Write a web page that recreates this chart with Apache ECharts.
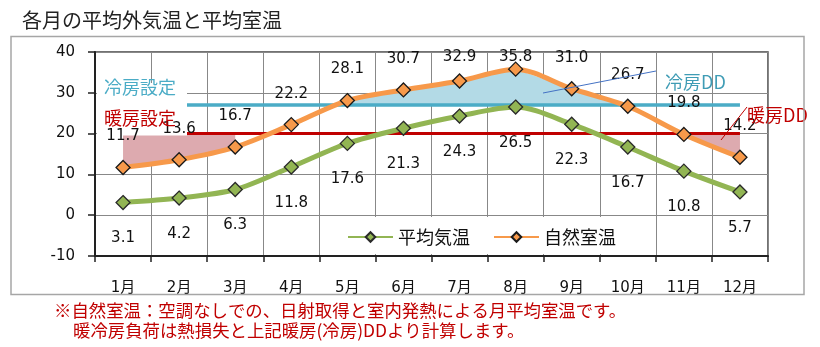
<!DOCTYPE html>
<html><head><meta charset="utf-8">
<script src="https://cdn.jsdelivr.net/npm/echarts@6/dist/echarts.min.js"></script>
<style>html,body{margin:0;padding:0;background:#fff}#c{width:820px;height:347px}</style>
</head><body><div id="c"></div>
<script>
const months = ['1月','2月','3月','4月','5月','6月','7月','8月','9月','10月','11月','12月'];
const outdoorTemp = [3.1, 4.2, 6.3, 11.8, 17.6, 21.3, 24.3, 26.5, 22.3, 16.7, 10.8, 5.7];
const roomTemp = [11.7, 13.6, 16.7, 22.2, 28.1, 30.7, 32.9, 35.8, 31.0, 26.7, 19.8, 14.2];
const coolingSet = 27;
const heatingSet = 20;
const yMin = -10, yMax = 40, yStep = 10;

// derived fills (heating degree: set - room where room < set; cooling: room - set where room > set)
const heatBase = roomTemp.map(v => v < heatingSet ? v : null);
const heatFill = roomTemp.map(v => v < heatingSet ? heatingSet - v : null);
const coolBase = roomTemp.map(v => v > coolingSet - 0.5 ? coolingSet : null);
const coolFill = roomTemp.map(v => v > coolingSet - 0.5 ? Math.max(v - coolingSet, 0) : null);
const coolLine = months.map(() => coolingSet);
const heatLine = months.map(() => heatingSet);

const numFont = "'DejaVu Sans','Noto Sans CJK JP',sans-serif";
const jpFont = "'Noto Sans CJK JP',sans-serif";
const chart = echarts.init(document.getElementById('c'), null, {renderer: 'canvas'});

const hidden = {symbol: 'none', silent: true, lineStyle: {opacity: 0, width: 0}, z: 1};
const option = {
  animation: false,
  title: {text: '各月の平均外気温と平均室温', left: 17, top: 5,
    textStyle: {fontFamily: jpFont, fontSize: 20, fontWeight: 'normal', color: '#222'}},
  grid: {left: 95, right: 52, top: 52, bottom: 91, show: true, borderColor: '#444', borderWidth: 1.5, backgroundColor: 'transparent'},
  legend: {data: ['平均気温', '自然室温'], left: 335, top: 217, backgroundColor: '#fff',
    padding: [11, 12, 8, 12], itemGap: 23, itemWidth: 45, itemHeight: 12,
    textStyle: {fontFamily: jpFont, fontSize: 18, color: '#111'}},
  xAxis: {type: 'category', data: months, boundaryGap: true,
    axisLine: {onZero: false, lineStyle: {color: '#222', width: 2}},
    axisTick: {show: true, length: 6, lineStyle: {color: '#222', width: 1.5}},
    axisLabel: {margin: 25, fontFamily: numFont, fontSize: 15, color: '#111', interval: 0},
    splitLine: {show: true, lineStyle: {color: '#888', width: 1}}},
  yAxis: {type: 'value', min: yMin, max: yMax, interval: yStep,
    axisLine: {show: true, lineStyle: {color: '#222', width: 2}},
    axisTick: {show: true, length: 7, lineStyle: {color: '#222', width: 1.5}},
    axisLabel: {margin: 20, fontFamily: numFont, fontSize: 15, color: '#111'},
    splitLine: {show: true, lineStyle: {color: '#888', width: 1}}},
  series: [
    Object.assign({name: 'hBase', type: 'line', stack: 'heat', data: heatBase}, hidden),
    Object.assign({name: 'hFill', type: 'line', stack: 'heat', data: heatFill, areaStyle: {color: '#DDAAAF', opacity: 1}}, hidden),
    Object.assign({name: 'cBase', type: 'line', stack: 'cool', data: coolBase}, hidden),
    Object.assign({name: 'cFill', type: 'line', stack: 'cool', data: coolFill, areaStyle: {color: '#B3DAE6', opacity: 1}}, hidden),
    {name: '冷房設定', type: 'line', data: coolLine, symbol: 'none', silent: true, z: 2,
      lineStyle: {color: '#4BACC6', width: 3.5}},
    {name: '暖房設定', type: 'line', data: heatLine, symbol: 'none', silent: true, z: 2,
      lineStyle: {color: '#C00000', width: 3}},
    {name: '平均気温', type: 'line', data: outdoorTemp, smooth: 0.3, z: 4,
      symbol: 'diamond', symbolSize: 14, color: '#92B553',
      lineStyle: {color: '#92B553', width: 5},
      itemStyle: {color: '#92B553', borderColor: '#2a2a2a', borderWidth: 1.3},
      label: {show: true, position: 'inside', offset: [0, 36], fontFamily: numFont, fontSize: 15, color: '#111',
        formatter: p => p.value.toFixed(1)}},
    {name: '自然室温', type: 'line', data: roomTemp, smooth: 0.3, z: 4,
      symbol: 'diamond', symbolSize: 14, color: '#F7994A',
      lineStyle: {color: '#F7994A', width: 5},
      itemStyle: {color: '#F7994A', borderColor: '#1a1a1a', borderWidth: 1.3},
      label: {show: true, position: 'inside', offset: [0, -31], fontFamily: numFont, fontSize: 15, color: '#111',
        formatter: p => (typeof p.value === 'number' ? p.value : p.data.value).toFixed(1)}}
  ],
  graphic: [
    {type: 'rect', shape: {x: 97, y: 83, width: 90, height: 52.5}, style: {fill: '#fff'}, z: 3, silent: true},
    {type: 'text', left: 104, top: 78, z: 6, style: {text: '冷房設定', fill: '#4BACC6', font: "18px 'Noto Sans CJK JP'"}},
    {type: 'text', left: 104, top: 109, z: 6, style: {text: '暖房設定', fill: '#C00000', font: "18px 'Noto Sans CJK JP'"}},
    {type: 'line', shape: {x1: 543, y1: 93, x2: 656, y2: 71}, style: {stroke: '#4472C4', lineWidth: 1}, z: 6},
    {type: 'text', left: 665, top: 73, z: 6, style: {text: '冷房DD', fill: '#3F9CB5', font: "18px 'Noto Sans CJK JP'"}},
    {type: 'line', shape: {x1: 721, y1: 140, x2: 747, y2: 107}, style: {stroke: '#C00000', lineWidth: 1}, z: 6},
    {type: 'text', left: 747, top: 106, z: 6, style: {text: '暖房DD', fill: '#C00000', font: "18px 'Noto Sans CJK JP'"}},
    {type: 'rect', shape: {x: 0, y: 295, width: 820, height: 6}, style: {fill: '#fff'}, z: 10, silent: true},
    {type: 'rect', shape: {x: 11, y: 36.5, width: 793, height: 258}, style: {fill: 'none', stroke: '#a6a6a6', lineWidth: 1.5}, z: 11, silent: true},
    {type: 'text', left: 54, top: 302, z: 12, style: {text: '※自然室温：空調なしでの、日射取得と室内発熱による月平均室温です。', fill: '#C00000', font: "17.4px 'Noto Sans CJK JP'"}},
    {type: 'text', left: 73, top: 322, z: 12, style: {text: '暖冷房負荷は熱損失と上記暖房(冷房)DDより計算します。', fill: '#C00000', font: "17.4px 'Noto Sans CJK JP'"}}
  ]
};
chart.setOption(option);

// keep room-temp labels inside the plot top (as in the original chart)
const labelTop = 57;
const roomData = roomTemp.map((v, i) => {
  const py = chart.convertToPixel({gridIndex: 0}, [i, v])[1];
  const target = Math.max(py - 31, labelTop);
  return {value: v, label: {offset: [0, target - py]}};
});
chart.setOption({series: [{}, {}, {}, {}, {}, {}, {}, {data: roomData}]});
</script></body></html>
